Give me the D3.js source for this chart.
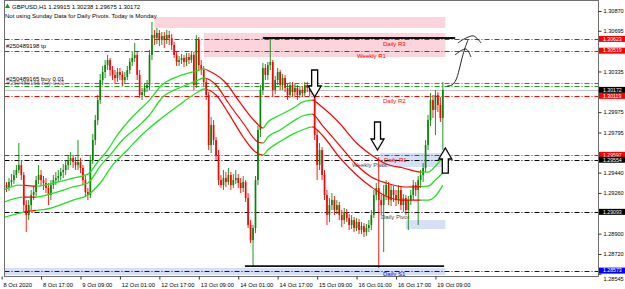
<!DOCTYPE html>
<html>
<head>
<meta charset="utf-8">
<script src="https://cdn.jsdelivr.net/npm/d3@7"></script>
<style>
body { margin: 0; background: #fff; }
svg { display: block; font-family: 'Liberation Sans', Arial, sans-serif; }
</style>
</head>
<body>
<div id="wrapper"></div>
<script>
const symbolInfo = 'GBPUSD,H1  1.29915 1.30238 1.29675 1.30172'
const pivotNote = 'Not using Sunday Data for Daily Pivots.  Today is Monday'

// H1 bars [open, high, low, close], bar 0 = 8 Oct 01:00
const candles = [
    [1.29259,1.29321,1.29224,1.29286],[1.29286,1.29366,1.29259,1.29330],[1.29330,1.29357,1.29268,1.29304],[1.29304,1.29392,1.29277,1.29357],
    [1.29357,1.29427,1.29321,1.29374],[1.29374,1.29463,1.29339,1.29419],[1.29419,1.29507,1.29392,1.29463],[1.29463,1.29702,1.29436,1.29507],
    [1.29507,1.29551,1.29374,1.29419],[1.29419,1.29445,1.29091,1.29153],[1.29153,1.29197,1.28914,1.29065],[1.29065,1.29197,1.29020,1.29153],
    [1.29153,1.29286,1.29109,1.29242],[1.29242,1.29321,1.29197,1.29268],[1.29268,1.29410,1.29233,1.29374],[1.29374,1.29507,1.29339,1.29419],
    [1.29419,1.29463,1.29321,1.29374],[1.29374,1.29410,1.29286,1.29348],[1.29348,1.29392,1.29259,1.29304],[1.29304,1.29348,1.29153,1.29242],
    [1.29242,1.29374,1.29197,1.29330],[1.29330,1.29419,1.29295,1.29374],[1.29374,1.29445,1.29330,1.29392],[1.29392,1.29463,1.29357,1.29410],
    [1.29410,1.29481,1.29374,1.29445],[1.29445,1.29516,1.29392,1.29463],[1.29463,1.29551,1.29419,1.29507],[1.29507,1.29596,1.29463,1.29551],
    [1.29551,1.29622,1.29507,1.29569],[1.29569,1.29596,1.29481,1.29534],[1.29534,1.29578,1.29463,1.29507],[1.29507,1.29728,1.29463,1.29534],
    [1.29534,1.29569,1.29436,1.29481],[1.29481,1.29507,1.29330,1.29374],[1.29374,1.29410,1.29224,1.29268],[1.29268,1.29304,1.29197,1.29242],
    [1.29242,1.29596,1.29215,1.29551],[1.29551,1.29782,1.29516,1.29728],[1.29728,1.29950,1.29684,1.29905],[1.29905,1.30127,1.29861,1.30082],
    [1.30082,1.30313,1.30047,1.30259],[1.30259,1.30383,1.30215,1.30330],[1.30330,1.30436,1.30277,1.30392],[1.30392,1.30481,1.30348,1.30436],
    [1.30436,1.30454,1.30295,1.30348],[1.30348,1.30383,1.30259,1.30304],[1.30304,1.30348,1.30233,1.30277],[1.30277,1.30366,1.30242,1.30330],
    [1.30330,1.30366,1.30259,1.30304],[1.30304,1.30339,1.30206,1.30259],[1.30259,1.30330,1.30224,1.30286],[1.30286,1.30383,1.30259,1.30348],
    [1.30348,1.30454,1.30313,1.30419],[1.30419,1.30507,1.30383,1.30454],[1.30454,1.30587,1.30419,1.30481],[1.30481,1.30507,1.30259,1.30304],
    [1.30304,1.30348,1.30100,1.30127],[1.30127,1.30189,1.30082,1.30153],[1.30153,1.30233,1.30118,1.30189],[1.30189,1.30259,1.30153,1.30215],
    [1.30215,1.30525,1.30171,1.30481],[1.30481,1.30773,1.30436,1.30658],[1.30658,1.30702,1.30569,1.30631],[1.30631,1.30720,1.30578,1.30675],
    [1.30675,1.30702,1.30560,1.30613],[1.30613,1.30684,1.30569,1.30649],[1.30649,1.30684,1.30543,1.30613],[1.30613,1.30702,1.30578,1.30658],
    [1.30658,1.30693,1.30569,1.30631],[1.30631,1.30667,1.30525,1.30569],[1.30569,1.30596,1.30454,1.30481],[1.30481,1.30507,1.30383,1.30419],
    [1.30419,1.30472,1.30383,1.30436],[1.30436,1.30490,1.30401,1.30454],[1.30454,1.30481,1.30374,1.30419],[1.30419,1.30498,1.30383,1.30463],
    [1.30463,1.30498,1.30401,1.30436],[1.30436,1.30516,1.30410,1.30481],[1.30481,1.30507,1.30171,1.30215],[1.30215,1.30658,1.30189,1.30613],
    [1.30613,1.30640,1.30348,1.30392],[1.30392,1.30436,1.30304,1.30348],[1.30348,1.30383,1.30197,1.30242],[1.30242,1.30277,1.30082,1.30127],
    [1.30127,1.30153,1.29640,1.29684],[1.29684,1.29932,1.29613,1.29861],[1.29861,1.29905,1.29684,1.29728],[1.29728,1.29755,1.29551,1.29596],
    [1.29596,1.29640,1.29330,1.29374],[1.29374,1.29419,1.29304,1.29330],[1.29330,1.29463,1.29286,1.29392],[1.29392,1.29445,1.29312,1.29357],
    [1.29357,1.29481,1.29330,1.29419],[1.29419,1.29445,1.29286,1.29330],[1.29330,1.29427,1.29304,1.29374],[1.29374,1.29463,1.29339,1.29392],
    [1.29392,1.29427,1.29304,1.29348],[1.29348,1.29392,1.29259,1.29304],[1.29304,1.29410,1.29268,1.29357],[1.29357,1.29374,1.29180,1.29215],
    [1.29215,1.29259,1.28950,1.28976],[1.28976,1.29020,1.28817,1.28843],[1.28843,1.28976,1.28613,1.28950],[1.28950,1.29410,1.28905,1.29374],
    [1.29374,1.29852,1.29330,1.29817],[1.29817,1.30215,1.29755,1.30171],[1.30171,1.30410,1.30127,1.30366],[1.30366,1.30401,1.30259,1.30304],
    [1.30304,1.30419,1.30259,1.30392],[1.30392,1.30631,1.30348,1.30419],[1.30419,1.30436,1.30109,1.30171],[1.30171,1.30295,1.30136,1.30259],
    [1.30259,1.30366,1.30215,1.30330],[1.30330,1.30348,1.30171,1.30215],[1.30215,1.30313,1.30171,1.30277],[1.30277,1.30304,1.30153,1.30189],
    [1.30189,1.30224,1.30082,1.30127],[1.30127,1.30242,1.30100,1.30215],[1.30215,1.30242,1.30109,1.30153],[1.30153,1.30224,1.30118,1.30189],
    [1.30189,1.30215,1.30082,1.30127],[1.30127,1.30206,1.30100,1.30171],[1.30171,1.30206,1.30109,1.30144],[1.30144,1.30242,1.30118,1.30215],
    [1.30215,1.30242,1.30153,1.30189],[1.30189,1.30215,1.30118,1.30153],[1.30153,1.30206,1.30127,1.30171],[1.30171,1.30189,1.29728,1.29773],
    [1.29773,1.29817,1.29374,1.29507],[1.29507,1.29702,1.29463,1.29640],[1.29640,1.29666,1.29374,1.29419],[1.29419,1.29463,1.29197,1.29242],
    [1.29242,1.29286,1.28976,1.29065],[1.29065,1.29215,1.29003,1.29153],[1.29153,1.29259,1.29109,1.29197],[1.29197,1.29233,1.29065,1.29109],
    [1.29109,1.29197,1.29074,1.29153],[1.29153,1.29180,1.29020,1.29065],[1.29065,1.29109,1.28958,1.29020],[1.29020,1.29127,1.28985,1.29091],
    [1.29091,1.29118,1.29003,1.29038],[1.29038,1.29074,1.28932,1.28976],[1.28976,1.29065,1.28941,1.29020],[1.29020,1.29047,1.28914,1.28950],
    [1.28950,1.29038,1.28923,1.29003],[1.29003,1.29029,1.28897,1.28932],[1.28932,1.29003,1.28897,1.28967],[1.28967,1.28994,1.28870,1.28914],
    [1.28914,1.28985,1.28879,1.28950],[1.28950,1.29020,1.28914,1.28976],[1.28976,1.29109,1.28932,1.29065],[1.29065,1.29286,1.29038,1.29242],
    [1.29242,1.29348,1.29197,1.29304],[1.29304,1.29578,1.28596,1.29197],[1.29197,1.29242,1.29065,1.29153],[1.29153,1.29330,1.28737,1.29242],
    [1.29242,1.29374,1.29197,1.29330],[1.29330,1.29357,1.29153,1.29197],[1.29197,1.29330,1.29144,1.29286],[1.29286,1.29321,1.29180,1.29242],
    [1.29242,1.29286,1.29144,1.29197],[1.29197,1.29330,1.29162,1.29286],[1.29286,1.29312,1.29109,1.29153],[1.29153,1.29251,1.29091,1.29215],
    [1.29215,1.29242,1.29065,1.29109],[1.29109,1.29233,1.28932,1.29197],[1.29197,1.29286,1.29153,1.29242],[1.29242,1.29374,1.29197,1.29330],
    [1.29330,1.29357,1.29233,1.29286],[1.29286,1.29410,1.28976,1.29374],[1.29374,1.29463,1.29304,1.29419],[1.29419,1.29525,1.29357,1.29481],
    [1.29481,1.29728,1.29445,1.29684],[1.29684,1.29950,1.29640,1.29905],[1.29905,1.30144,1.29852,1.30082],[1.30082,1.30127,1.29923,1.29994],
    [1.29994,1.30171,1.29773,1.30127],[1.30127,1.30153,1.29976,1.30038],[1.30038,1.30109,1.29888,1.29923],[1.29923,1.30242,1.29640,1.30172]
]

// three-line trend indicator, read as [bar, price]
const upperBand = [[0,1.29277],[7,1.29330],[14,1.29321],[21,1.29348],[29,1.29392],[35,1.29427],[39,1.29534],[43,1.29640],
    [47,1.29773],[53,1.29932],[60,1.30082],[65,1.30215],[72,1.30295],[79,1.30339],[82,1.30357],[85,1.30330],[91,1.30233],
    [96,1.30082],[103,1.29888],[106,1.29835],[108,1.29888],[113,1.29950],[119,1.30020],[122,1.30064],[126,1.30082],
    [130,1.30020],[137,1.29879],[144,1.29702],[150,1.29596],[156,1.29516],[163,1.29481],[170,1.29445],[173,1.29445],
    [176,1.29498],[179,1.29578]]
const middleBand = [[0,1.29171],[9,1.29224],[14,1.29224],[21,1.29259],[29,1.29313],[35,1.29348],[40,1.29498],[44,1.29596],
    [49,1.29729],[56,1.29861],[60,1.29950],[65,1.30100],[72,1.30189],[79,1.30251],[82,1.30277],[87,1.30215],[92,1.30056],
    [98,1.29879],[104,1.29711],[106,1.29702],[108,1.29755],[113,1.29817],[119,1.29905],[122,1.29941],[126,1.29958],
    [130,1.29861],[137,1.29684],[144,1.29507],[150,1.29401],[156,1.29348],[164,1.29313],[173,1.29321],[176,1.29374],
    [179,1.29436]]
const lowerBand = [[0,1.29038],[9,1.29091],[20,1.29126],[29,1.29197],[35,1.29242],[40,1.29348],[45,1.29507],[51,1.29640],
    [56,1.29755],[60,1.29835],[65,1.29923],[72,1.30038],[79,1.30144],[82,1.30180],[87,1.30127],[92,1.29967],[98,1.29755],
    [103,1.29622],[106,1.29596],[108,1.29640],[114,1.29729],[119,1.29790],[122,1.29817],[126,1.29844],[130,1.29773],
    [137,1.29578],[144,1.29419],[150,1.29313],[155,1.29242],[162,1.29197],[173,1.29197],[176,1.29233],[179,1.29330]]
// bars where the indicator switches colour, starting green
const trendFlips = [9, 14, 83, 106, 126, 170]

const timeTickBars = [0, 16, 32, 48, 64, 80, 96, 112, 128, 144, 160, 176]
const timeTickLabels = ['8 Oct 2020', '8 Oct 17:00', '9 Oct 09:00', '12 Oct 01:00', '12 Oct 17:00', '13 Oct 09:00',
    '14 Oct 01:00', '14 Oct 17:00', '15 Oct 09:00', '16 Oct 01:00', '16 Oct 17:00', '19 Oct 09:00']
// grid labels that are not covered by the price marks
const priceTicks = [1.30870, 1.30695, 1.30335, 1.29975, 1.29795, 1.29440, 1.29260, 1.28900, 1.28720, 1.28545]

const pivotNames = ['Daily R3', 'Weekly R1', 'Daily R2', 'Daily R1', 'Weekly Pivot', 'Daily Pivot', 'Daily S1']
const pivotPrices = [1.30623, 1.30519, 1.30119, 1.29597, 1.29554, 1.29093, 1.28573]

const orderLabels = ['#250489198 tp', '#250489165 buy 0.01', '#250489165 buy 0.01']
const orderPrices = [1.30519, 1.30237, 1.30206]
const bidPrice = 1.30172

// zones [fromBar, toBar, top, bottom]
const supplyZones = [[62, 180, 1.30817, 1.30719], [82, 180, 1.30675, 1.30463]]
const demandZones = [[153.5, 180, 1.29613, 1.29490], [164, 180, 1.29020, 1.28941], [0, 180, 1.28596, 1.28534]]
// drawn horizontal lines [fromBar, toBar, price]
const hLines = [[106, 184, 1.30631], [98.7, 179.5, 1.28613]]

const arrowBars = [127, 152.5, 180]
const arrowTips = [1.30109, 1.29640, 1.29658]
const arrowTails = [1.30348, 1.29888, 1.29436]

// freehand strokes [bar, price]
const sketchStrokes = [
    [[180.7,1.30206],[182.7,1.30215],[184.3,1.30259],[185.6,1.30348],[186.8,1.30454],[188,1.30543],[189.2,1.30613]],
    [[183.9,1.30481],[188.4,1.30534],[190.4,1.30463]],
    [[185.1,1.30587],[188.4,1.30631],[191.5,1.30649],[194.5,1.30587]]
]

// 1. chart dimensions
const dms = { width: 625, height: 289 }
const plot = { left: 4.5, right: 598.5, top: 0.5, bottom: 276.5 }

const x = d3.scaleLinear().domain([0, 240]).range([1.6, 1.6 + 240 * 2.465])
const y = d3.scaleLinear().domain([1.28720, 1.30870]).range([254, 11])

const RED = '#ff0000'
const BULL = '#0a850a'
const LIME = '#22e022'

const svg = d3.select('#wrapper').append('svg')
    .attr('width', dms.width)
    .attr('height', dms.height)
svg.append('rect').attr('width', dms.width).attr('height', dms.height).attr('fill', '#fff')

const defs = svg.append('defs')
defs.append('clipPath').attr('id', 'plotClip').append('rect')
    .attr('x', plot.left).attr('y', plot.top)
    .attr('width', plot.right - plot.left).attr('height', plot.bottom - plot.top)

// clip ranges for the red / green parts of the trend lines
const flipEdges = [0, ...trendFlips, 240]
const redClip = defs.append('clipPath').attr('id', 'redClip')
const greenClip = defs.append('clipPath').attr('id', 'greenClip')
for (let k = 0; k < flipEdges.length - 1; k++) {
    const target = k % 2 === 0 ? greenClip : redClip
    target.append('rect')
        .attr('x', x(flipEdges[k])).attr('y', 0)
        .attr('width', x(flipEdges[k + 1]) - x(flipEdges[k])).attr('height', dms.height)
}

const chart = svg.append('g').attr('clip-path', 'url(#plotClip)')

// 2. zones
const zoneRect = (sel, fill) => sel
    .attr('x', d => x(d[0])).attr('width', d => x(d[1]) - x(d[0]))
    .attr('y', d => y(d[2])).attr('height', d => y(d[3]) - y(d[2]))
    .attr('fill', fill)
chart.append('g').selectAll('rect').data(supplyZones).join('rect').call(zoneRect, '#fcd4db')
chart.append('g').selectAll('rect').data(demandZones).join('rect').call(zoneRect, '#d5dff6')

// 3. level lines
const pivotColor = n => n.includes('Pivot') ? '#000' : n.includes('S1') ? '#0000ff' : RED
chart.append('g').selectAll('line').data(pivotPrices).join('line')
    .attr('x1', plot.left).attr('x2', plot.right)
    .attr('y1', d => Math.round(y(d)) + 0.5).attr('y2', d => Math.round(y(d)) + 0.5)
    .attr('stroke', (d, i) => pivotColor(pivotNames[i]))
    .attr('stroke-width', 1)
    .attr('stroke-dasharray', '5,2,1,2')

chart.append('g').selectAll('line').data(orderPrices.slice(1)).join('line')
    .attr('x1', plot.left).attr('x2', plot.right)
    .attr('y1', d => Math.round(y(d)) + 0.5).attr('y2', d => Math.round(y(d)) + 0.5)
    .attr('stroke', '#1a9a1a')
    .attr('stroke-dasharray', '5,2,1,2')

chart.append('line')
    .attr('x1', plot.left).attr('x2', plot.right)
    .attr('y1', Math.round(y(bidPrice)) + 0.5).attr('y2', Math.round(y(bidPrice)) + 0.5)
    .attr('stroke', '#c0c0c0')

// pivot labels
const pivotLabelX = [383, 357, 383, 384, 352, 381, 383]
const pivotLabelDy = [7, 7, 7, 7, 7, 7, 5]
chart.append('g').selectAll('text').data(pivotPrices).join('text')
    .attr('x', (d, i) => pivotLabelX[i])
    .attr('y', (d, i) => y(d) + pivotLabelDy[i])
    .attr('font-size', 6)
    .attr('fill', (d, i) => pivotNames[i].includes('Pivot') ? '#444' : pivotColor(pivotNames[i]))
    .text((d, i) => pivotNames[i])

// order labels
chart.append('g').selectAll('text').data(orderPrices).join('text')
    .attr('x', (d, i) => 6 + (i === 2 ? 0.6 : 0))
    .attr('y', (d, i) => y(d) - (i === 0 ? 2.5 : 1.5))
    .attr('font-size', 6)
    .attr('fill', '#000')
    .attr('opacity', (d, i) => i === 2 ? 0.6 : 1)
    .text((d, i) => orderLabels[i])

// 4. candles
const up = d => d[3] >= d[0]
const cg = chart.append('g')
cg.selectAll('line').data(candles).join('line')
    .attr('x1', (d, i) => x(i)).attr('x2', (d, i) => x(i))
    .attr('y1', d => y(d[1])).attr('y2', d => y(d[2]))
    .attr('stroke', d => up(d) ? BULL : RED)
    .attr('stroke-width', 0.9)
cg.selectAll('rect').data(candles).join('rect')
    .attr('x', (d, i) => x(i) - 0.85).attr('width', 1.7)
    .attr('y', d => y(Math.max(d[0], d[3])))
    .attr('height', d => Math.max(0.8, Math.abs(y(d[0]) - y(d[3]))))
    .attr('fill', d => up(d) ? BULL : RED)

// 5. trend indicator lines
const bandLine = d3.line().x(d => x(d[0])).y(d => y(d[1])).curve(d3.curveMonotoneX)
const bands = [upperBand, middleBand, lowerBand]
chart.append('g').attr('clip-path', 'url(#greenClip)')
    .selectAll('path').data(bands).join('path')
    .attr('d', bandLine).attr('fill', 'none').attr('stroke', LIME).attr('stroke-width', 1.3)
chart.append('g').attr('clip-path', 'url(#redClip)')
    .selectAll('path').data(bands).join('path')
    .attr('d', bandLine).attr('fill', 'none').attr('stroke', RED).attr('stroke-width', 1.2)

// 6. drawn objects
svg.append('g').selectAll('line').data(hLines).join('line')
    .attr('x1', d => x(d[0])).attr('x2', d => x(d[1]))
    .attr('y1', d => y(d[2])).attr('y2', d => y(d[2]))
    .attr('stroke', '#111').attr('stroke-width', 1.8)

const arrowPath = (bar, tip, tail) => {
    const tx = x(bar), ty = y(tip), ty0 = y(tail)
    const s = ty > ty0 ? 1 : -1
    const hb = ty - s * 11
    return `M${tx - 3},${ty0}L${tx + 3},${ty0}L${tx + 3},${hb}L${tx + 6.5},${hb}L${tx},${ty}` +
        `L${tx - 6.5},${hb}L${tx - 3},${hb}Z`
}
svg.append('g').selectAll('path').data(arrowBars).join('path')
    .attr('d', (d, i) => arrowPath(d, arrowTips[i], arrowTails[i]))
    .attr('fill', '#fff').attr('stroke', '#000').attr('stroke-width', 1.3)

const sketchLine = d3.line().x(d => x(d[0])).y(d => y(d[1])).curve(d3.curveCatmullRom)
svg.append('g').selectAll('path').data(sketchStrokes).join('path')
    .attr('d', sketchLine).attr('fill', 'none').attr('stroke', '#111').attr('stroke-width', 0.9)

// 7. frame and axes
svg.append('rect')
    .attr('x', plot.left).attr('y', plot.top)
    .attr('width', plot.right - plot.left).attr('height', plot.bottom - plot.top)
    .attr('fill', 'none').attr('stroke', '#6f6f6f')

const yAxis = svg.append('g')
    .attr('transform', `translate(${plot.right},0)`)
    .call(d3.axisRight(y).tickValues(priceTicks).tickFormat(d3.format('.5f')).tickSize(3).tickPadding(2))
yAxis.select('.domain').remove()
yAxis.selectAll('line').attr('stroke', '#333')
yAxis.selectAll('text').attr('font-size', 5.6).attr('fill', '#000').attr('font-family', 'Liberation Sans, Arial')
// lowest label sits just under the S1 mark
yAxis.selectAll('.tick').filter(d => d === 1.28545).select('text').attr('dy', '1.25em')

const xAxis = svg.append('g')
    .attr('transform', `translate(0,${plot.bottom})`)
    .call(d3.axisBottom(x).tickValues(timeTickBars).tickFormat((d, i) => timeTickLabels[i]).tickSize(3).tickPadding(3))
xAxis.select('.domain').remove()
xAxis.selectAll('line').attr('stroke', '#333')
xAxis.selectAll('text')
    .attr('text-anchor', 'start').attr('dx', 1.4)
    .attr('font-size', 5.8).attr('fill', '#000').attr('font-family', 'Liberation Sans, Arial')

// price marks on the axis
const markPrices = [pivotPrices[0], pivotPrices[1], bidPrice, pivotPrices[2], pivotPrices[3], pivotPrices[4], pivotPrices[5], pivotPrices[6]]
const markColors = [RED, RED, '#000', RED, RED, '#000', '#000', '#0000ff']
const marks = svg.append('g').selectAll('g').data(markPrices).join('g')
    .attr('transform', d => `translate(${plot.right + 0.5},${y(d)})`)
marks.append('rect').attr('x', 0).attr('y', -3).attr('width', 27).attr('height', 6)
    .attr('fill', (d, i) => markColors[i])
marks.append('text').attr('x', 4).attr('y', 1.8)
    .attr('font-size', 5.2).attr('fill', '#fff')
    .text(d => d3.format('.5f')(d))

// 8. header text
svg.append('path').attr('d', 'M5,8L7.5,3.5L10,8Z').attr('fill', '#1a9a1a')
svg.append('text').attr('x', 12).attr('y', 8.5).attr('font-size', 6).attr('fill', '#000').text(symbolInfo)
svg.append('text').attr('x', 5).attr('y', 18).attr('font-size', 6).attr('fill', '#000').text(pivotNote)
</script>
</body>
</html>
